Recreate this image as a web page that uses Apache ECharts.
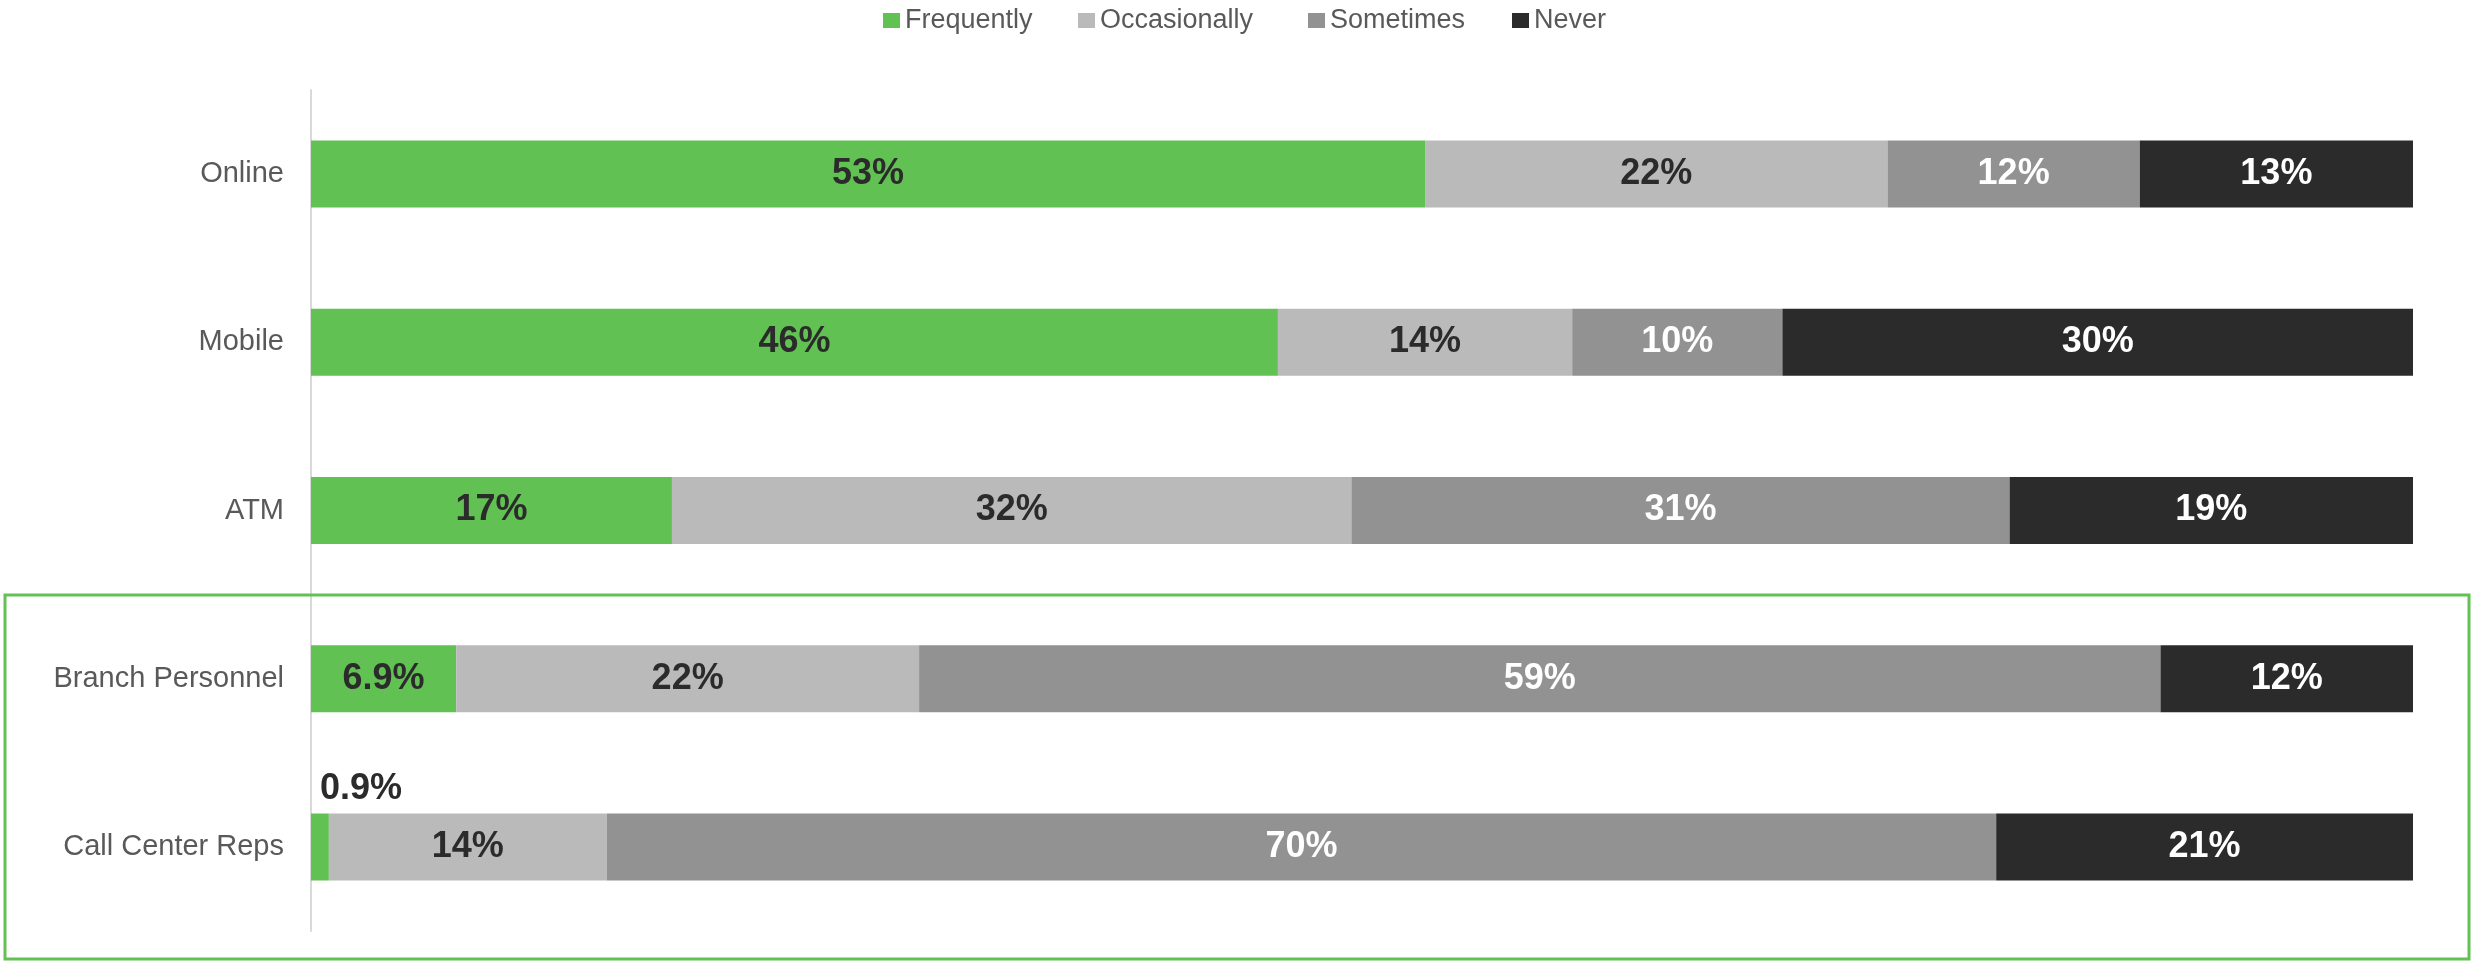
<!DOCTYPE html>
<html>
<head>
<meta charset="utf-8">
<script src="https://cdn.jsdelivr.net/npm/echarts@6/dist/echarts.min.js"></script>
<style>
  html, body { margin: 0; padding: 0; background: #ffffff; }
  #chart { width: 2471px; height: 962px; }
</style>
</head>
<body>
<div id="chart"></div>
<script>
// Usage frequency by channel (survey responses, %)
const channels = ['Online', 'Mobile', 'ATM', 'Branch Personnel', 'Call Center Reps'];
const seriesNames = ['Frequently', 'Occasionally', 'Sometimes', 'Never'];
const frequently = [53, 46, 17, 6.9, 0.9];
const occasionally = [22, 14, 32, 22, 14];
const sometimes = [12, 10, 31, 59, 70];
const never = [13, 30, 19, 12, 21];

const colors = ['#62c153', '#bababa', '#929292', '#2b2b2b'];
const labelColors = ['#2b2b2b', '#2b2b2b', '#ffffff', '#ffffff'];
const rows = [frequently, occasionally, sometimes, never];

// Each bar is stretched to the full width (100% stacked): segment share of its row total
const totals = channels.map((_, i) => rows.reduce((s, r) => s + r[i], 0));

const FONT = "'Liberation Sans', Arial, sans-serif";

function fmt(v) { return v + '%'; }

const series = rows.map((vals, k) => ({
  name: seriesNames[k],
  type: 'bar',
  stack: 'total',
  barWidth: 67,
  itemStyle: { color: colors[k] },
  label: {
    show: true,
    position: 'inside',
    color: labelColors[k],
    fontFamily: FONT,
    fontWeight: 'bold',
    fontSize: 36,
    formatter: p => fmt(vals[p.dataIndex])
  },
  data: vals.map((v, i) => {
    const item = { value: v / totals[i] * 100 };
    // A sliver too thin to hold its label gets it written above the bar
    if (k === 0 && v < 2) {
      item.label = { position: [9, -6], align: 'left', verticalAlign: 'bottom' };
    }
    return item;
  })
}));

// One legend entry per series, spaced along the top
const legendLefts = [883, 1078, 1308, 1512];
const legends = seriesNames.map((name, k) => ({
  data: [name],
  top: 7,
  left: legendLefts[k],
  padding: 0,
  icon: 'rect',
  itemWidth: 17,
  itemHeight: 15,
  textStyle: {
    fontFamily: FONT,
    fontSize: 27,
    color: '#595959'
  }
}));

const chart = echarts.init(document.getElementById('chart'), null, { renderer: 'canvas' });
chart.setOption({
  animation: false,
  backgroundColor: '#ffffff',
  legend: legends,
  grid: { left: 311, right: 58, top: 90, bottom: 31, containLabel: false },
  xAxis: {
    type: 'value',
    min: 0,
    max: 100,
    show: false
  },
  yAxis: {
    type: 'category',
    data: channels,
    inverse: true,
    axisLine: { show: true, lineStyle: { color: '#d9d9d9', width: 2 } },
    axisTick: { show: false },
    axisLabel: {
      margin: 27,
      color: '#595959',
      fontFamily: FONT,
      fontSize: 29
    }
  },
  graphic: [{
    type: 'rect',
    shape: { x: 5, y: 595, width: 2464, height: 364 },
    style: { fill: 'none', stroke: '#62c153', lineWidth: 3 },
    z: 100
  }],
  series: series
});
</script>
</body>
</html>
